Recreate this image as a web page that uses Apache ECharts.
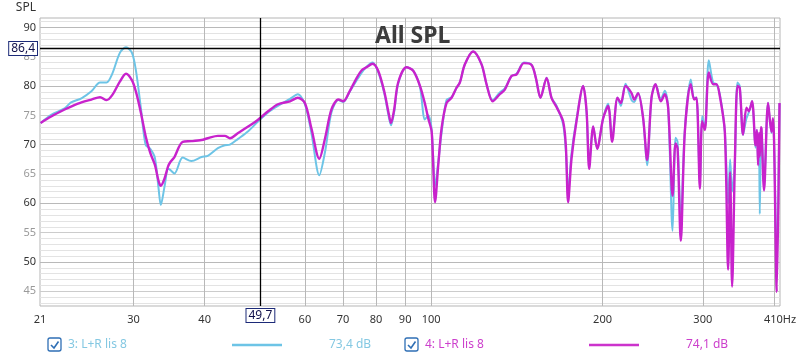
<!DOCTYPE html>
<html>
<head>
<meta charset="utf-8">
<script src="https://cdn.jsdelivr.net/npm/echarts@6/dist/echarts.min.js"></script>
<style>
  html, body { margin: 0; padding: 0; background: #fff; }
  #chart { width: 800px; height: 357px; }
</style>
</head>
<body>
<div id="chart"></div>
<script>
// frequency points (Hz)
const freqHz = [
  20.6, 21.5, 22.7, 23.3, 24.3, 25.3, 26.2, 26.9, 27.5, 28.4, 29.1, 29.8, 30.3, 30.9, 31.5, 32.1,
  32.7, 33.2, 33.5, 34.0, 34.5, 34.8, 35.4, 36.6, 37.9, 39.5, 40.5, 42.2, 43.4, 44.3, 45.8, 47.7,
  49.7, 51.7, 53.8, 56.5, 58.3, 60.0, 61.6, 63.6, 65.1, 66.8, 68.7, 70.1, 71.9, 74.0, 75.5, 77.0,
  78.9, 80.7, 82.7, 84.3, 85.0, 86.1, 87.5, 90.5, 93.0, 95.5, 97.5, 98.8, 100.2, 101.6, 102.9, 104.3,
  106.4, 108.6, 110.8, 112.3, 114.6, 118.5, 122.6, 125.1, 128.2, 132.0, 134.7, 138.4, 141.3, 145.5, 150.1, 152.7,
  155.6, 159.5, 162.7, 166.1, 170.5, 172.4, 174.0, 176.4, 180.0, 184.9, 187.5, 189.5, 192.6, 195.7, 200.5, 204.6,
  207.9, 212.5, 215.4, 219.5, 224.9, 227.3, 230.9, 235.7, 239.5, 243.8, 247.8, 253.2, 257.3, 260.8, 265.5, 268.7,
  270.9, 274.5, 279.0, 285.8, 289.7, 292.5, 296.5, 299.2, 302.5, 307.4, 312.8, 317.1, 321.4, 328.0, 332.4, 335.1,
  337.8, 341.5, 345.2, 348.4, 353.1, 358.0, 361.4, 366.2, 371.3, 373.5, 375.2, 376.5, 377.8, 379.5, 380.4, 384.4,
  390.7, 396.1, 398.5, 400.3, 404.7, 409.2
];

// trace 3 (light blue)
const splTrace3 = [
  73.7, 75.1, 76.2, 77.2, 77.9, 79.1, 80.6, 80.6, 82.0, 85.7, 86.6, 85.7, 82.6, 76.3, 70.0, 69.3,
  67.8, 62.5, 59.7, 62.8, 65.9, 65.7, 65.1, 67.8, 67.2, 67.9, 68.1, 69.4, 69.9, 70.0, 71.0, 72.3,
  74.0, 75.5, 76.6, 77.8, 78.6, 76.9, 72.0, 64.8, 68.8, 75.5, 77.6, 77.3, 79.0, 81.0, 82.3, 83.3,
  84.0, 82.4, 78.8, 74.6, 73.3, 75.6, 80.4, 83.2, 82.6, 80.0, 74.3, 75.0, 72.5, 63.0, 67.0, 72.0,
  77.6, 78.1, 79.7, 80.6, 83.7, 85.9, 83.7, 80.3, 77.6, 78.9, 79.6, 81.7, 82.1, 84.0, 83.6, 81.4,
  78.0, 81.4, 78.0, 76.6, 73.5, 69.0, 62.0, 68.5, 74.3, 80.0, 75.5, 66.5, 73.1, 69.3, 74.5, 77.0,
  70.8, 78.0, 76.6, 80.4, 77.6, 77.3, 78.8, 74.5, 66.5, 78.0, 80.3, 77.8, 79.2, 76.3, 55.3, 71.2,
  70.5, 57.0, 72.5, 81.1, 78.0, 78.0, 63.0, 74.9, 72.8, 84.4, 80.6, 80.3, 78.6, 72.2, 60.0, 67.5,
  62.0, 67.0, 80.6, 80.0, 71.7, 74.5, 75.5, 77.4, 69.5, 72.5, 67.0, 71.5, 58.2, 72.0, 72.8, 62.8,
  77.1, 72.0, 74.0, 70.5, 50.0, 77.1
];

// trace 4 (magenta)
const splTrace4 = [
  73.7, 74.8, 76.0, 76.5, 77.2, 77.7, 78.1, 77.6, 78.4, 80.8, 82.1, 81.0, 79.0, 75.5, 71.5, 68.6,
  66.6, 63.8, 63.0, 64.2, 66.3, 67.0, 67.9, 70.5, 70.6, 70.8, 71.1, 71.5, 71.5, 71.1, 72.0, 73.1,
  74.3, 75.7, 76.9, 77.4, 78.0, 77.1, 72.8, 67.6, 71.1, 76.0, 77.7, 77.4, 79.1, 81.4, 82.7, 83.2,
  83.8, 82.6, 79.1, 75.1, 73.7, 76.0, 80.6, 83.2, 82.6, 80.1, 77.0, 74.5, 72.2, 60.2, 66.5, 72.8,
  77.1, 78.0, 79.7, 80.6, 83.7, 85.9, 83.7, 80.3, 77.4, 78.6, 79.4, 81.7, 82.0, 83.9, 83.6, 81.4,
  78.0, 81.4, 78.0, 76.4, 74.0, 69.9, 60.2, 67.6, 74.0, 80.0, 75.7, 65.9, 73.1, 69.3, 74.5, 76.6,
  70.5, 78.0, 77.1, 80.0, 78.8, 77.7, 78.8, 74.5, 67.4, 78.0, 80.3, 77.4, 78.6, 76.3, 61.3, 70.2,
  69.4, 53.6, 72.2, 80.3, 77.7, 78.0, 62.5, 74.0, 72.5, 82.3, 80.3, 80.3, 78.3, 72.2, 48.7, 65.3,
  45.8, 66.5, 80.0, 79.7, 71.7, 76.3, 75.7, 77.4, 69.9, 72.5, 66.5, 72.0, 68.0, 73.0, 72.8, 62.2,
  77.1, 72.2, 74.5, 70.5, 44.9, 77.1
];

const traceNames = ['3: L+R lis 8', '4: L+R lis 8'];
const traceLevels = ['73,4 dB', '74,1 dB'];

const xLabelHz = [20.55, 30, 40, 60, 70, 80, 90, 100, 200, 300, 410];
const xGridHz = [30, 40, 50, 60, 70, 80, 90, 100, 200, 300, 400];
const yLabels = [45, 50, 55, 60, 65, 70, 75, 80, 85, 90];
const yGrid = [];
for (let v = 43; v <= 91; v++) yGrid.push(v);

const cursorHz = 49.7;
const cursorSpl = 86.4;

const FONT = '"Noto Sans", "Open Sans", sans-serif';
const colBlue = '#6dc4e6';
const colMag = '#c822cc';
const lg = Math.log10;
const comma = (v) => v.toFixed(1).replace('.', ',');

// 1 dB lines light, 5 dB mid, 10 dB darker (cycle starts at 43 dB)
const hLineColors = ['#e3e3e3', '#e3e3e3', '#cccccc', '#e3e3e3', '#e3e3e3',
                     '#e3e3e3', '#e3e3e3', '#b9b9b9', '#e3e3e3', '#e3e3e3'];

const chart = echarts.init(document.getElementById('chart'));

const legendItem = (i, x0, color, textColor) => [
  { type: 'rect', shape: { x: x0, y: 338, width: 13, height: 13, r: 2 },
    style: { fill: '#fff', stroke: '#2f6fb5', lineWidth: 1.3 } },
  { type: 'polyline', shape: { points: [[x0 + 3, x0 ? 345 : 345], [x0 + 6, 348], [x0 + 10.5, 341.5]] },
    style: { fill: null, stroke: '#2f6fb5', lineWidth: 1.6 } },
  { type: 'text', x: x0 + 20, y: 345,
    style: { text: traceNames[i], fill: textColor, fontSize: 12, fontFamily: FONT, verticalAlign: 'middle' } },
  { type: 'line', shape: { x1: x0 + 184, y1: 345, x2: x0 + 234, y2: 345 },
    style: { stroke: color, lineWidth: 2.5 } },
  { type: 'text', x: x0 + 281, y: 345,
    style: { text: traceLevels[i], fill: textColor, fontSize: 12, fontFamily: FONT, verticalAlign: 'middle' } }
];

chart.setOption({
  animation: false,
  backgroundColor: '#fff',
  textStyle: { fontFamily: FONT },
  title: {
    text: 'All SPL',
    left: 370,
    top: 20,
    textStyle: { fontSize: 23, fontWeight: 'bold', color: '#3c3c3c', fontFamily: FONT }
  },
  grid: {
    left: 40, right: 20, top: 18, bottom: 51,
    show: true, borderColor: '#b5b5b5', borderWidth: 1
  },
  xAxis: {
    type: 'value',
    min: lg(20.55),
    max: lg(410),
    axisLine: { show: false },
    axisTick: { show: false, customValues: xGridHz.map(lg) },
    axisLabel: {
      customValues: xLabelHz.map(lg),
      color: '#333',
      fontSize: 11,
      margin: 8,
      formatter: (v) => {
        const f = Math.pow(10, v);
        const s = String(Math.round(f));
        return f > 405 ? s + 'Hz' : s;
      }
    },
    splitLine: { show: true, lineStyle: { color: '#b8b8b8', width: 1 } }
  },
  yAxis: {
    type: 'value',
    min: 42.5,
    max: 91.6,
    name: 'SPL',
    nameLocation: 'end',
    nameGap: 4,
    nameTextStyle: { color: '#333', fontSize: 12, align: 'right', padding: [0, 4, 0, 0] },
    axisLine: { show: false },
    axisTick: { show: false, customValues: yGrid },
    axisLabel: {
      customValues: yLabels,
      fontSize: 11,
      margin: 4,
      color: (v) => (Number(v) % 10 === 0 ? '#333' : '#9a9a9a')
    },
    splitLine: { show: true, lineStyle: { color: hLineColors, width: 1 } }
  },
  series: [
    {
      name: traceNames[0],
      type: 'line',
      data: freqHz.map((f, i) => [lg(f), splTrace3[i]]),
      showSymbol: false,
      smooth: 0.3,
      lineStyle: { color: colBlue, width: 2 },
      itemStyle: { color: colBlue },
      z: 3,
      markLine: {
        silent: true,
        symbol: 'none',
        animation: false,
        lineStyle: { color: '#000', width: 1.3, type: 'solid' },
        label: {
          position: 'start',
          distance: 3,
          color: '#10104a',
          fontSize: 12,
          backgroundColor: '#fff',
          borderColor: '#1c2a78',
          borderWidth: 1,
          padding: [1, 2, 0, 2]
        },
        data: [
          { xAxis: lg(cursorHz), label: { formatter: comma(cursorHz) } },
          { yAxis: cursorSpl, label: { formatter: comma(cursorSpl) } }
        ]
      }
    },
    {
      name: traceNames[1],
      type: 'line',
      data: freqHz.map((f, i) => [lg(f), splTrace4[i]]),
      showSymbol: false,
      smooth: 0.3,
      lineStyle: { color: colMag, width: 2.4 },
      itemStyle: { color: colMag },
      z: 4
    }
  ],
  graphic: [
    ...legendItem(0, 48, colBlue, '#84c8e2'),
    ...legendItem(1, 405, '#cc33cc', '#cc3fcc')
  ]
});
</script>
</body>
</html>
